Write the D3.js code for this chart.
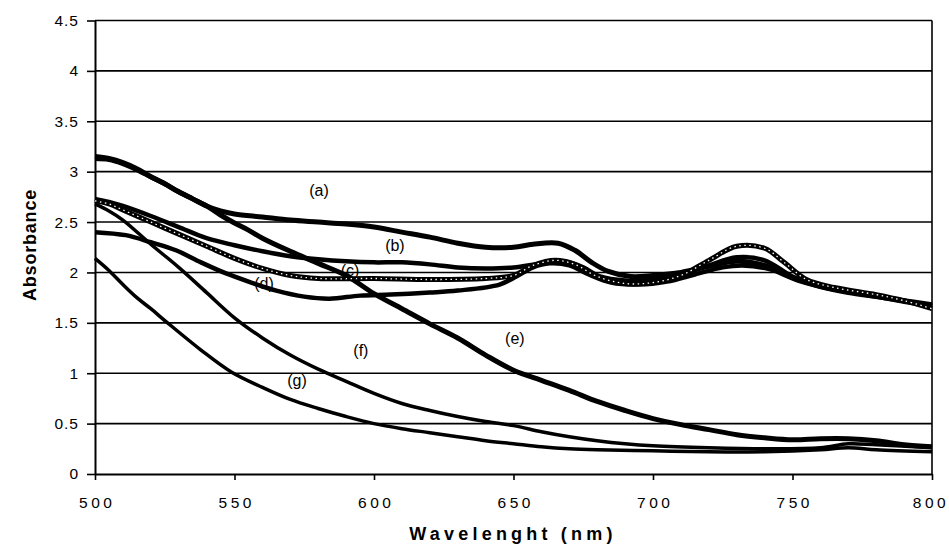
<!DOCTYPE html>
<html>
<head>
<meta charset="utf-8">
<script src="https://cdn.jsdelivr.net/npm/d3@7"></script>
<style>
  body { margin: 0; background: #fff; }
  svg { display: block; font-family: "Liberation Sans", Arial, sans-serif; }
</style>
</head>
<body>
<div id="chart"></div>
<script>
// absorbance spectra as [wavelength nm, absorbance]
const curveA = [[500,3.13],[505,3.12],[510,3.08],[515,3.02],[520,2.95],[525,2.88],[530,2.80],[535,2.73],[540,2.66],[545,2.61],[550,2.58],[560,2.55],[570,2.52],[580,2.50],[590,2.48],[600,2.45],[610,2.40],[620,2.35],[630,2.29],[640,2.25],[650,2.25],[657,2.28],[666,2.29],[672,2.22],[678,2.10],[684,2.01],[692,1.96],[700,1.97],[710,2.00],[720,2.06],[730,2.11],[740,2.07],[750,1.95],[760,1.86],[770,1.80],[780,1.76],[790,1.72],[800,1.68]];
const curveB = [[500,2.73],[505,2.70],[510,2.66],[520,2.56],[530,2.45],[540,2.34],[550,2.27],[560,2.21],[570,2.16],[580,2.13],[590,2.11],[600,2.10],[610,2.10],[620,2.08],[630,2.05],[640,2.04],[650,2.05],[660,2.09],[668,2.11],[675,2.05],[681,1.96],[690,1.92],[700,1.93],[710,1.98],[720,2.07],[730,2.15],[740,2.12],[750,1.96],[760,1.87],[770,1.81],[780,1.76],[790,1.71],[800,1.67]];
const curveC = [[500,2.71],[505,2.68],[510,2.62],[520,2.50],[530,2.38],[540,2.26],[550,2.14],[560,2.04],[570,1.97],[580,1.94],[600,1.94],[620,1.93],[640,1.94],[650,1.97],[657,2.07],[665,2.12],[672,2.08],[680,1.96],[690,1.89],[700,1.90],[710,1.97],[720,2.12],[730,2.26],[740,2.24],[747,2.10],[755,1.93],[765,1.85],[780,1.78],[790,1.72],[800,1.64]];
const curveD = [[500,2.40],[511,2.37],[520,2.30],[529,2.22],[538,2.10],[547,1.99],[556,1.90],[565,1.82],[575,1.76],[584,1.74],[595,1.77],[606,1.78],[620,1.80],[630,1.82],[645,1.88],[651,1.96],[657,2.05],[663,2.09],[670,2.07],[677,1.98],[685,1.90],[695,1.88],[705,1.91],[715,1.98],[725,2.05],[732,2.07],[742,2.03],[752,1.92],[765,1.83],[780,1.77],[790,1.72],[800,1.66]];
const curveE = [[500,3.15],[505,3.13],[510,3.09],[515,3.03],[520,2.95],[525,2.88],[530,2.80],[535,2.73],[540,2.66],[545,2.57],[550,2.49],[555,2.42],[560,2.34],[570,2.21],[580,2.09],[590,1.97],[600,1.79],[610,1.64],[620,1.49],[630,1.35],[640,1.18],[650,1.03],[660,0.93],[670,0.83],[680,0.72],[690,0.63],[700,0.55],[710,0.49],[720,0.44],[730,0.39],[740,0.36],[750,0.34],[760,0.35],[770,0.35],[780,0.33],[790,0.29],[800,0.27]];
const curveF = [[500,2.68],[505,2.61],[510,2.52],[520,2.28],[530,2.05],[540,1.80],[550,1.55],[560,1.35],[570,1.18],[580,1.04],[590,0.92],[600,0.80],[610,0.70],[620,0.63],[630,0.57],[640,0.52],[650,0.48],[660,0.42],[670,0.37],[680,0.33],[690,0.30],[700,0.28],[720,0.26],[740,0.25],[760,0.26],[770,0.30],[780,0.29],[800,0.26]];
const curveG = [[500,2.14],[505,2.02],[510,1.88],[515,1.75],[520,1.64],[526,1.50],[538,1.23],[549,1.01],[560,0.86],[570,0.74],[580,0.65],[590,0.57],[600,0.50],[610,0.45],[620,0.41],[630,0.37],[640,0.33],[650,0.30],[660,0.27],[670,0.25],[680,0.24],[700,0.23],[720,0.22],[740,0.22],[760,0.24],[770,0.26],[780,0.24],[800,0.22]];

const xTicks = [500, 550, 600, 650, 700, 750, 800];
const yTicks = [0, 0.5, 1, 1.5, 2, 2.5, 3, 3.5, 4, 4.5];

// curve labels: [text, wavelength, absorbance]
const labels = [["(a)",580.3,2.81],["(b)",607.5,2.27],["(c)",591.4,2.02],["(d)",560.6,1.89],["(e)",650.5,1.35],["(f)",595.3,1.23],["(g)",572.4,0.93]];

const W = 949, H = 546;
const margin = { top: 20.5, right: 17, bottom: 72, left: 95 };

const svg = d3.select("#chart").append("svg")
  .attr("width", W)
  .attr("height", H);

const x = d3.scaleLinear().domain([500, 800]).range([margin.left, W - margin.right]);
const y = d3.scaleLinear().domain([0, 4.5]).range([H - margin.bottom, margin.top]);

// horizontal gridlines
svg.append("g")
  .selectAll("line")
  .data(yTicks.filter(d => d > 0))
  .enter()
  .append("line")
  .attr("x1", x(500))
  .attr("x2", x(800))
  .attr("y1", d => y(d))
  .attr("y2", d => y(d))
  .attr("stroke", "#000")
  .attr("stroke-width", 1.6);

// right border
svg.append("line")
  .attr("x1", x(800)).attr("x2", x(800))
  .attr("y1", y(4.5)).attr("y2", y(0))
  .attr("stroke", "#000")
  .attr("stroke-width", 1.6);

// y axis
const yAxis = svg.append("g")
  .attr("transform", "translate(" + margin.left + ",0)")
  .call(d3.axisLeft(y).tickValues(yTicks).tickSize(8).tickSizeOuter(0).tickPadding(8).tickFormat(d => String(d)));
yAxis.attr("font-family", null).attr("font-size", null);
yAxis.select(".domain").attr("stroke-width", 2);
yAxis.selectAll(".tick line").attr("stroke-width", 1.6);
yAxis.selectAll(".tick text")
  .attr("font-size", 15.5)
  .attr("letter-spacing", 1)
  .attr("fill", "#000");

// x axis
const xAxis = svg.append("g")
  .attr("transform", "translate(0," + y(0) + ")")
  .call(d3.axisBottom(x).tickValues(xTicks).tickSize(6).tickSizeOuter(0).tickFormat(d => String(d)));
xAxis.attr("font-family", null).attr("font-size", null);
xAxis.select(".domain").attr("stroke-width", 2);
xAxis.selectAll(".tick line").attr("stroke-width", 1.6);
xAxis.selectAll(".tick text")
  .attr("y", 34)
  .attr("dy", 0)
  .attr("dx", (d, i) => (i === xTicks.length - 1 ? -1.5 : 1.75))
  .attr("font-size", 15.5)
  .attr("letter-spacing", 3.5)
  .attr("fill", "#000");

// axis titles
svg.append("text")
  .attr("x", 513)
  .attr("y", 540)
  .attr("text-anchor", "middle")
  .attr("font-size", 18)
  .attr("font-weight", "bold")
  .attr("letter-spacing", 4.2)
  .text("Wavelenght (nm)");

svg.append("text")
  .attr("text-anchor", "middle")
  .attr("transform", "translate(36," + 245 + ")rotate(-90)")
  .attr("font-size", 18)
  .attr("font-weight", "bold")
  .attr("letter-spacing", 0.8)
  .text("Absorbance");

// spectra
const line = d3.line()
  .x(d => x(d[0]))
  .y(d => y(d[1]))
  .curve(d3.curveCatmullRom.alpha(0.5));

const series = [curveA, curveB, curveC, curveD, curveE, curveF, curveG];
const widths = [5, 4.5, 5, 4.5, 5, 3.5, 3.5];

svg.append("g")
  .selectAll("path")
  .data(series)
  .enter()
  .append("path")
  .attr("d", line)
  .attr("fill", "none")
  .attr("stroke", "#000")
  .attr("stroke-width", (d, i) => widths[i])
  .attr("stroke-linejoin", "round");

// open square markers of curve (c) show as small white dots
svg.append("path")
  .attr("d", line(curveC))
  .attr("fill", "none")
  .attr("stroke", "#fff")
  .attr("stroke-width", 1.3)
  .attr("stroke-dasharray", "1.5 3.5");

// curve labels
svg.append("g")
  .selectAll("text")
  .data(labels)
  .enter()
  .append("text")
  .attr("x", d => x(d[1]))
  .attr("y", d => y(d[2]))
  .attr("dy", "0.35em")
  .attr("text-anchor", "middle")
  .attr("font-size", 16)
  .text(d => d[0]);
</script>
</body>
</html>
